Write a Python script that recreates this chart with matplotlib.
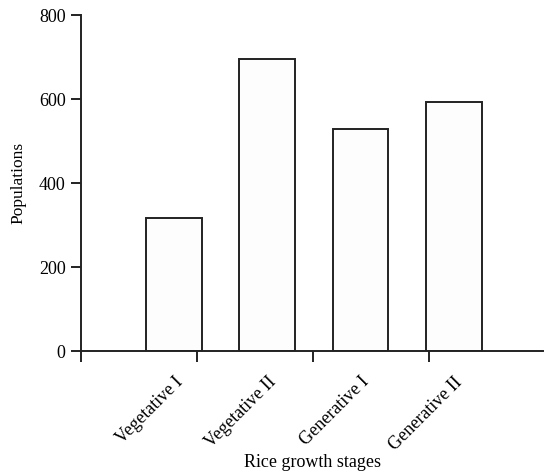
import matplotlib
matplotlib.use("Agg")
import numpy as np
from matplotlib import pyplot as plt

stages = ['Vegetative I', 'Vegetative II', 'Generative I', 'Generative II']
populations = [318, 696, 529, 593]
yticks = [0, 200, 400, 600, 800]
minor_x = [-0.995, 0.249, 1.492, 2.735]

plt.rcParams['font.family'] = ['Liberation Serif', 'DejaVu Serif']

fig = plt.figure(figsize=(5.45, 4.74), dpi=100)
ax = fig.add_axes([81 / 545, 1 - 351.3 / 474, 462 / 545, (351.3 - 15) / 474])

x = np.arange(len(stages))
ax.bar(x, populations, width=0.597, facecolor='#fdfdfd', edgecolor='#222222', linewidth=1.4)

ax.set_xlim(-0.995, 3.957)
ax.set_ylim(0, 800)
ax.set_yticks(yticks)

ax.set_xticks(x)
ax.set_xticklabels(stages, rotation=45, ha='right', rotation_mode='anchor')
ax.set_xticks(minor_x, minor=True)
ax.tick_params(axis='x', which='major', length=0, pad=16, labelsize=13)
ax.tick_params(axis='x', which='minor', length=8, width=1.4, direction='out', color='#222222')
ax.tick_params(axis='y', length=7, width=1.4, direction='out', color='#222222', labelsize=13, pad=4)

for s in ['top', 'right']:
    ax.spines[s].set_visible(False)
for s in ['left', 'bottom']:
    ax.spines[s].set_linewidth(1.4)
    ax.spines[s].set_color('#222222')

ax.set_ylabel('Populations', fontsize=12.5)
ax.yaxis.set_label_coords(-0.118, 0.5)
ax.set_xlabel('Rice growth stages', fontsize=13)
ax.xaxis.set_label_coords(0.5, -0.305)

fig.savefig('out.png', dpi=100)
